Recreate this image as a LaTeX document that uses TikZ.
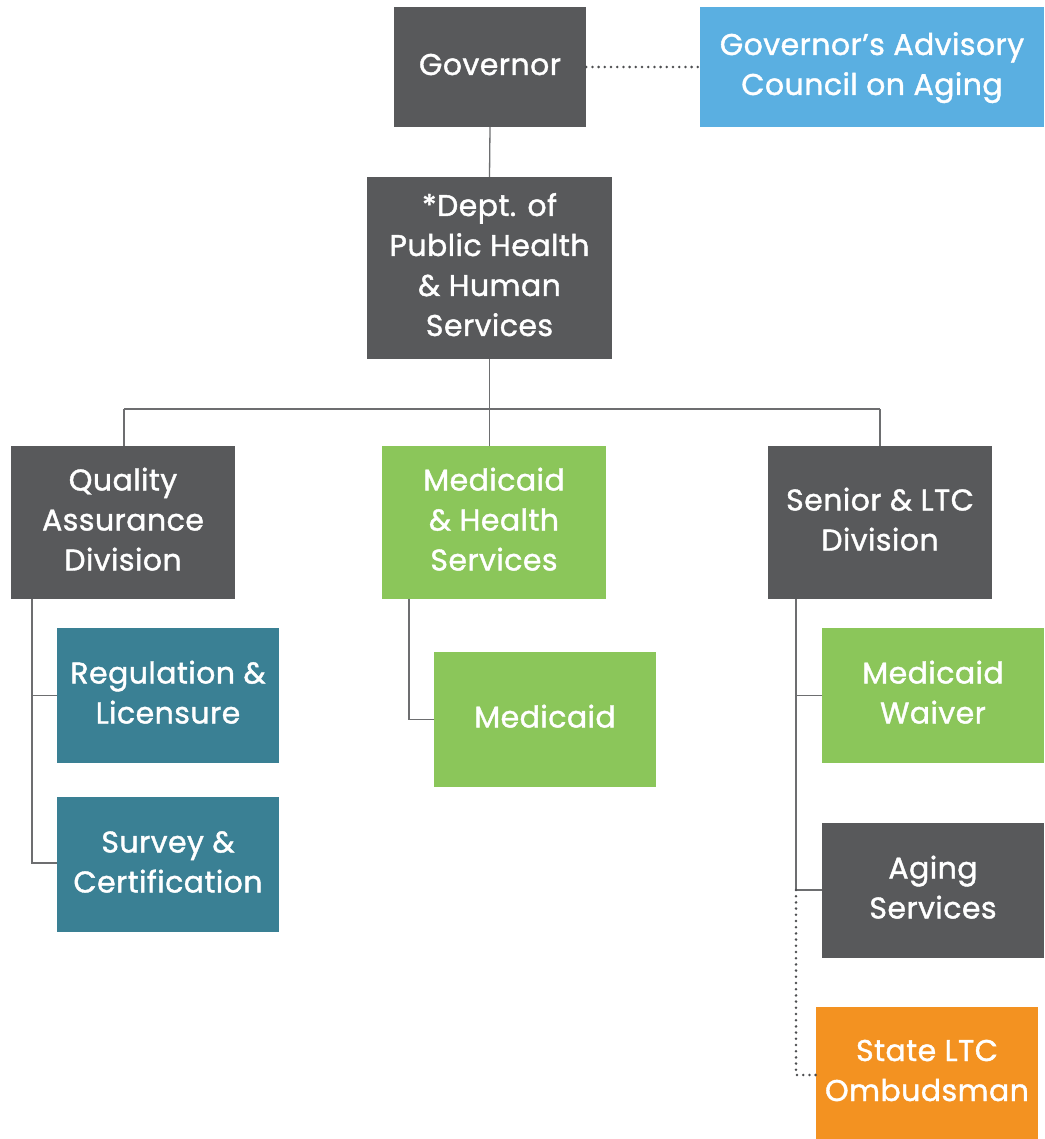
\documentclass[tikz,border=0pt]{standalone}
\usepackage{fontspec}
\newfontfamily\bxfont{Poppins}[FakeBold=1.3, LetterSpace=1.5]
\definecolor{dgray}{HTML}{58595B}
\definecolor{lblue}{HTML}{5AAFE1}
\definecolor{lgreen}{HTML}{8BC65A}
\definecolor{teal2}{HTML}{3A8094}
\definecolor{orng}{HTML}{F39221}
\definecolor{linec}{HTML}{6D6E70}
\definecolor{dotc}{HTML}{4D4E50}
\newcommand\tx[1]{\raisebox{5pt}{\begin{tabular}{@{}c@{}}#1\end{tabular}}}
\tikzset{
  box/.style={inner sep=0pt, align=center, text=white, font=\bxfont\fontsize{30}{40}\selectfont},
  conn/.style={draw=linec, line width=1.3pt},
  dotconn/.style={draw=dotc, line width=2.8pt, dash pattern=on 0pt off 6.2pt, line cap=round},
}
\begin{document}
\begin{tikzpicture}[x=1pt,y=-1pt]
\useasboundingbox (0,0) rectangle (1044,1139);
% boxes
\node[box, fill=dgray, minimum width=192, minimum height=120] (gov) at (490,67) {\tx{Governor}};
\node[box, fill=lblue, minimum width=344, minimum height=120] (adv) at (872,67) {\tx{Governor’s Advisory\\Council on Aging}};
\node[box, fill=dgray, minimum width=245, minimum height=182] (dept) at (489.5,268) {\tx{*Dept. of\\Public Health\\\& Human\\Services}};
\node[box, fill=dgray, minimum width=224, minimum height=153] (qa) at (123,522.5) {\tx{Quality\\Assurance\\Division}};
\node[box, fill=lgreen, minimum width=224, minimum height=153] (mhs) at (494,522.5) {\tx{Medicaid\\\& Health\\Services}};
\node[box, fill=dgray, minimum width=224, minimum height=153] (sen) at (880,522.5) {\tx{Senior \& LTC\\Division}};
\node[box, fill=teal2, minimum width=222, minimum height=135] (reg) at (168,695.5) {\tx{Regulation \&\\Licensure}};
\node[box, fill=teal2, minimum width=222, minimum height=135] (sur) at (168,864.5) {\tx{Survey \&\\Certification}};
\node[box, fill=lgreen, minimum width=222, minimum height=135] (med) at (545,719.5) {\tx{Medicaid}};
\node[box, fill=lgreen, minimum width=222, minimum height=135] (mw) at (933,695.5) {\tx{Medicaid\\Waiver}};
\node[box, fill=dgray, minimum width=222, minimum height=135] (age) at (933,890.5) {\tx{Aging\\Services}};
\node[box, fill=orng, minimum width=222, minimum height=132] (omb) at (927,1073) {\tx{State LTC\\Ombudsman}};
% coordinates
\coordinate (busL) at (124,409);
\coordinate (busR) at (880,409);
\coordinate (qaT) at (32,599);
\coordinate (qaB) at (32,863);
\coordinate (mhT) at (409,599);
\coordinate (snT) at (796,599);
\coordinate (snB) at (796,890);
\coordinate (ombC) at (796,1075);
% connectors
\path[dotconn] (gov.east) -- (adv.west);
\path[conn] (gov.south) -- (dept.north);
\path[conn] (dept.south) -- (mhs.north -| dept.south);
\path[conn] (busL) -- (busR);
\path[conn] (busL) -- (qa.north -| busL);
\path[conn] (busR) -- (sen.north -| busR);
\path[conn] (qaT) -- (qaB) -- (sur.west |- qaB);
\path[conn] (reg.west) -- (reg.west -| qaT);
\path[conn] (mhT) |- (med.west);
\path[conn] (snT) -- (snB) -- (age.west |- snB);
\path[conn] (mw.west) -- (mw.west -| snT);
\path[dotconn] (snB) -- (ombC) -- (omb.west |- ombC);
\end{tikzpicture}
\end{document}
